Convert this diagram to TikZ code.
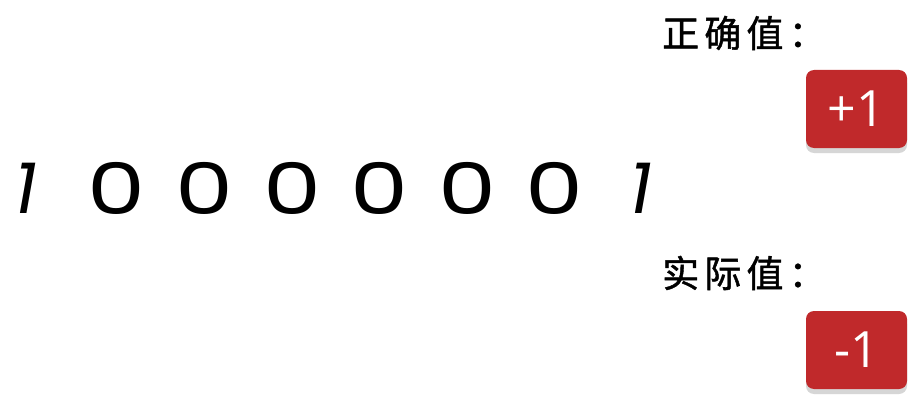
\documentclass[tikz,border=0pt]{standalone}
\usepackage{fontspec}
\usepackage{graphicx}
\newfontfamily\digitfont{Poppins}
\newfontfamily\boxfont{Open Sans}
\newfontfamily\cjk[FakeBold=1.2,LetterSpace=14]{Noto Sans CJK SC}
\definecolor{boxred}{HTML}{C0292B}
\definecolor{shadowgray}{HTML}{D6D6D6}

\begin{document}
\begin{tikzpicture}[x=1pt,y=-1pt,every node/.style={black,inner sep=0pt},
	bit/.style={font=\digitfont\fontsize{71}{71}\selectfont},
	one/.style={font=\digitfont\itshape\fontsize{71}{71}\selectfont},
	label/.style={font=\cjk\fontsize{37}{37}\selectfont,anchor=west},
	valbox/.style={fill=boxred,rounded corners=8pt,minimum width=101pt,minimum height=78pt,text=white,font=\boxfont\fontsize{50}{50}\selectfont}]
	\useasboundingbox[fill=white] (0,0) rectangle (922,404);

	\node[one] (b0) at (26,188) {1};
	\node[bit] (b1) at (116,188) {\scalebox{1.3}[1]{0}};
	\node[bit] (b2) at (204,188) {\scalebox{1.3}[1]{0}};
	\node[bit] (b3) at (292,188) {\scalebox{1.3}[1]{0}};
	\node[bit] (b4) at (379,188) {\scalebox{1.3}[1]{0}};
	\node[bit] (b5) at (467,188) {\scalebox{1.3}[1]{0}};
	\node[bit] (b6) at (554,188) {\scalebox{1.3}[1]{0}};
	\node[one] (b7) at (641,188) {1};

	\node[label] (exp) at (662,33) {正确值：};
	\node[label] (act) at (662,273) {实际值：};

	\fill[shadowgray,rounded corners=8pt] (806,75) rectangle (907,153);
	\fill[shadowgray,rounded corners=8pt] (806,316) rectangle (907,394);
	\node[valbox] (plus) at (856.5,109) {+1};
	\node[valbox] (minus) at (856.5,350) {-1};
\end{tikzpicture}
\end{document}
